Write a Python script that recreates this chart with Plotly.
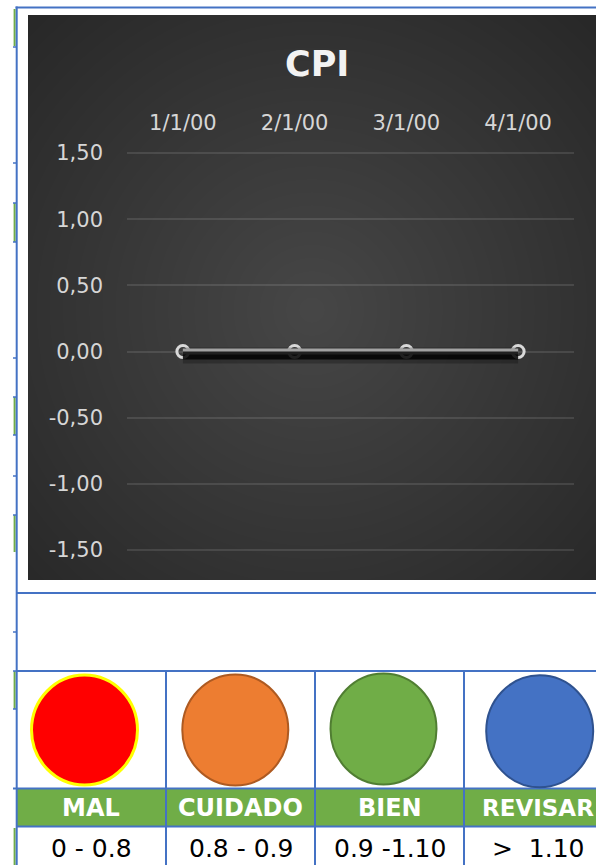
import plotly.graph_objects as go

# ---------------- data ----------------
fechas = ["1/1/00", "2/1/00", "3/1/00", "4/1/00"]
cpi = [0, 0, 0, 0]
y_tickvals = [-1.5, -1.0, -0.5, 0.0, 0.5, 1.0, 1.5]
y_ticktext = ["-1,50", "-1,00", "-0,50", "0,00", "0,50", "1,00", "1,50"]
estados = ["MAL", "CUIDADO", "BIEN", "REVISAR"]
rangos = ["0 - 0.8", "0.8 - 0.9", "0.9 -1.10", ">\u00a0 1.10"]

# ---------------- styling ----------------
W, H = 596, 865
BLUE = "#4472C4"
GREEN = "#70AD47"
circle_fill = ["#FF0000", "#ED7D31", "#70AD47", "#4472C4"]
circle_line = ["#FFFF00", "#AE5A21", "#507E32", "#2F528F"]
circle_lw = [3, 2, 2, 2]
FONT = "DejaVu Sans"

def px(x):
    return x / W

def py(y):
    return 1 - y / H

fig = go.Figure()

# soft shadow of the line (same data on an overlaid, slightly shifted axis)
fig.add_trace(go.Scatter(x=fechas, y=cpi, yaxis="y2", mode="lines",
                         line=dict(color="rgba(0,0,0,0.25)", width=16),
                         hoverinfo="skip", showlegend=False))
fig.add_trace(go.Scatter(x=fechas, y=cpi, yaxis="y2", mode="lines",
                         line=dict(color="rgba(0,0,0,0.8)", width=8),
                         hoverinfo="skip", showlegend=False))
# main line
fig.add_trace(go.Scatter(x=fechas, y=cpi, mode="lines+markers",
                         line=dict(color="#d9d9d9", width=6),
                         marker=dict(symbol="circle-open", size=12,
                                     line=dict(color="#e8e8e8", width=3)),
                         showlegend=False))

shapes = []
# chart area base
CX0, CY0, CX1, CY1 = 28, 15, 610, 580
shapes.append(dict(type="rect", xref="paper", yref="paper", layer="below",
                   x0=px(CX0), x1=px(CX1), y0=py(CY1), y1=py(CY0),
                   fillcolor="#262626", line=dict(width=0)))
# radial gradient approximation
gcx, gcy = 312, 310
N = 32
for i in range(N, 0, -1):
    r = 420 * i / N
    shapes.append(dict(type="circle", xref="paper", yref="paper", layer="below",
                       x0=px(gcx - r), x1=px(gcx + r), y0=py(gcy + r), y1=py(gcy - r),
                       fillcolor="rgba(255,255,255,0.0092)", line=dict(width=0)))
# white covers outside chart area
for (x0, y0, x1, y1) in [(-500, -500, 1200, CY0), (-500, -500, CX0, 1400), (-500, CY1, 1200, 1400)]:
    shapes.append(dict(type="rect", xref="paper", yref="paper", layer="below",
                       x0=px(x0), x1=px(x1), y0=py(y1), y1=py(y0),
                       fillcolor="white", line=dict(width=0)))

def hline(y, x0, x1, color=BLUE, w=2):
    shapes.append(dict(type="line", xref="paper", yref="paper",
                       x0=px(x0), x1=px(x1), y0=py(y), y1=py(y),
                       line=dict(color=color, width=w)))

def vline(x, y0, y1, color=BLUE, w=2):
    shapes.append(dict(type="line", xref="paper", yref="paper",
                       x0=px(x), x1=px(x), y0=py(y0), y1=py(y1),
                       line=dict(color=color, width=w)))

# left edge artifacts (neighbouring cells)
for (a, b) in [(9, 46), (203, 242), (397, 435), (515, 552), (671, 709), (828, 866)]:
    vline(14.6, a, b, color=GREEN, w=2)
for t in [47, 163, 203, 242, 358, 397, 435, 476, 515, 632, 671, 709]:
    hline(t, 13, 17, w=1.5)

# green header band
shapes.append(dict(type="rect", xref="paper", yref="paper",
                   x0=px(17), x1=px(600), y0=py(826), y1=py(789),
                   fillcolor=GREEN, line=dict(width=0)))

# cell borders
hline(7.5, 15.5, 600)
vline(16.7, 6.5, 866)
hline(593, 16, 600)
hline(671, 16, 600)
hline(788.5, 13, 600)
hline(826.5, 16, 600)
col_x = [16.7, 166, 315, 464]
for x in col_x[1:]:
    vline(x, 671, 866)

# circles
centers = [(84.5, 730), (235.3, 730), (383.5, 729), (539.7, 731.3)]
radii = [(53, 55), (53, 55.5), (53, 55.5), (53.5, 56)]
for (cx, cy), (rx, ry), fc, lc, lw in zip(centers, radii, circle_fill, circle_line, circle_lw):
    shapes.append(dict(type="circle", xref="paper", yref="paper",
                       x0=px(cx - rx), x1=px(cx + rx), y0=py(cy + ry), y1=py(cy - ry),
                       fillcolor=fc, line=dict(color=lc, width=lw)))

annotations = []
annotations.append(dict(text="<b>CPI</b>", x=px(316.5), y=py(64), xref="paper", yref="paper",
                        showarrow=False, xanchor="center", yanchor="middle",
                        font=dict(family=FONT, size=35, color="#f2f2f2")))
col_centers = [91.5, 240.5, 389.5, 538]
head_sizes = [24, 24, 24, 23]
for cxc, est, rg, hs in zip(col_centers, estados, rangos, head_sizes):
    annotations.append(dict(text="<b>" + est + "</b>", x=px(cxc), y=py(808), xref="paper", yref="paper",
                            showarrow=False, xanchor="center", yanchor="middle",
                            font=dict(family=FONT, size=hs, color="white")))
    annotations.append(dict(text=rg, x=px(cxc), y=py(848), xref="paper", yref="paper",
                            showarrow=False, xanchor="center", yanchor="middle",
                            font=dict(family=FONT, size=25, color="black")))

# axis geometry: tick 1.5 at y=153 px, tick -1.5 at y=550 px
PX0, PX1 = 127, 574
scale = (550 - 153) / 3.0
pad_u = 0.03
yr = [-1.5 - pad_u, 1.5 + pad_u]
PY_TOP = 153 - pad_u * scale
PY_BOT = 550 + pad_u * scale
shift = 4 / scale

fig.update_layout(
    template="none",
    width=W, height=H,
    autosize=False,
    margin=dict(l=0, r=0, t=0, b=0, pad=0, autoexpand=False),
    paper_bgcolor="white",
    plot_bgcolor="rgba(0,0,0,0)",
    showlegend=False,
    xaxis=dict(domain=[px(PX0), px(PX1)], type="category", side="top",
               range=[-0.5, 3.5], showgrid=False, zeroline=False, showline=False,
               automargin=False,
               ticks="", tickfont=dict(family=FONT, size=21, color="#d6d6d6"),
               ticklabelstandoff=14),
    yaxis=dict(domain=[py(PY_BOT), py(PY_TOP)], range=yr,
               tickvals=y_tickvals, ticktext=y_ticktext,
               showgrid=True, gridcolor="rgba(255,255,255,0.11)", gridwidth=2,
               zeroline=False, showline=False, ticks="", automargin=False,
               tickfont=dict(family=FONT, size=21, color="#d6d6d6"),
               ticklabelstandoff=23),
    yaxis2=dict(overlaying="y", range=[yr[0] + shift, yr[1] + shift], visible=False,
                automargin=False),
    shapes=shapes,
    annotations=annotations,
)

fig.write_html("out.html",
               config={"displayModeBar": False},
               post_script="document.body.style.margin='0';document.body.style.overflow='hidden';")
